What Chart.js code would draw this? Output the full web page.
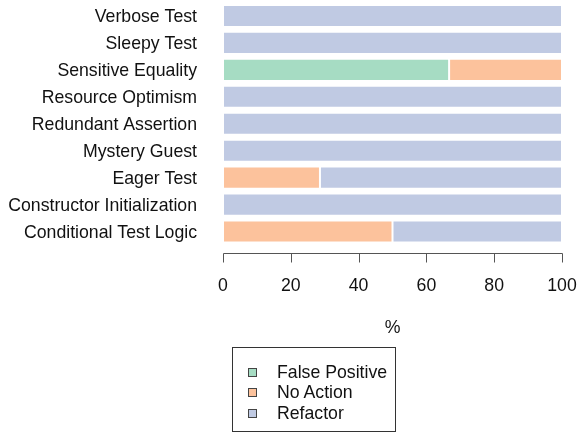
<!DOCTYPE html>
<html>
<head>
<meta charset="utf-8">
<script src="https://cdn.jsdelivr.net/npm/chart.js@4"></script>
<style>
  html, body { margin: 0; padding: 0; background: #fff; }
  #wrap { position: relative; width: 577px; height: 434px; }
  #legend { position: absolute; left: 232px; top: 347px; width: 164px; height: 85px; border: 1px solid #333; box-sizing: border-box;
            font-family: "Liberation Sans", Arial, Helvetica, sans-serif; font-size: 17.7px; color: #111; padding-top: 13.5px; }
  .li { height: 20.5px; line-height: 20.5px; position: relative; padding-left: 44px; white-space: nowrap; }
  .sw { position: absolute; left: 15px; top: 6px; width: 7px; height: 7px; border: 1px solid #444; }
</style>
</head>
<body>
<div id="wrap">
  <canvas id="c" width="577" height="434"></canvas>
  <div id="legend"></div>
</div>
<script>
const categories = ['Verbose Test', 'Sleepy Test', 'Sensitive Equality', 'Resource Optimism', 'Redundant Assertion', 'Mystery Guest', 'Eager Test', 'Constructor Initialization', 'Conditional Test Logic'];
const seriesNames = ['False Positive', 'No Action', 'Refactor'];
const falsePositive = [null, null, 66.7, null, null, null, null, null, null];
const noAction = [null, null, 33.3, null, null, null, 28.6, null, 50];
const refactor = [100, 100, null, 100, 100, 100, 71.4, 100, 50];
const xTicks = [0, 20, 40, 60, 80, 100];
const colors = ['#a6dcc3', '#fcc29c', '#c0cae3'];

const FONT = '"Liberation Sans", Arial, Helvetica, sans-serif';
const FS = 17.7;

const axisPlugin = {
  id: 'rAxis',
  afterDraw(chart) {
    const ctx = chart.ctx, xs = chart.scales.x, ca = chart.chartArea;
    const y = Math.round(ca.bottom + 8) + 0.5;
    ctx.save();
    ctx.strokeStyle = '#555';
    ctx.lineWidth = 1;
    ctx.beginPath();
    ctx.moveTo(Math.round(xs.getPixelForValue(xTicks[0])) + 0.5, y);
    ctx.lineTo(Math.round(xs.getPixelForValue(xTicks[xTicks.length - 1])) + 0.5, y);
    xTicks.forEach(t => {
      const px = Math.round(xs.getPixelForValue(t)) + 0.5;
      ctx.moveTo(px, y);
      ctx.lineTo(px, y + 9);
    });
    ctx.stroke();
    ctx.restore();
  }
};

const data = {
  labels: categories,
  datasets: [falsePositive, noAction, refactor].map((d, i) => ({
    label: seriesNames[i],
    data: d,
    backgroundColor: colors[i],
    borderColor: 'rgba(255,255,255,0.7)',
    borderWidth: 1,
    borderSkipped: false,
    categoryPercentage: 1,
    barPercentage: 0.82
  }))
};

const chart = new Chart(document.getElementById('c'), {
  type: 'bar',
  data,
  options: {
    indexAxis: 'y',
    responsive: false,
    animation: false,
    layout: { padding: { top: 2.5, right: 15, bottom: 95, left: 0 } },
    plugins: { legend: { display: false }, tooltip: { enabled: false } },
    scales: {
      x: {
        stacked: true, min: 0, max: 100,
        afterBuildTicks(s) { s.ticks = xTicks.map(v => ({ value: v })); },
        afterFit(s) { s.height = 94; s.paddingLeft = 0; s.paddingRight = 0; },
        grid: { display: false, drawTicks: false },
        border: { display: false },
        ticks: { color: '#111', font: { family: FONT, size: FS }, padding: 30, maxRotation: 0 },
        title: { display: true, text: '%', color: '#111', font: { family: FONT, size: FS }, padding: { top: 22, bottom: 0 } }
      },
      y: {
        stacked: true,
        afterFit(s) { s.width = 223; s.paddingTop = 0; s.paddingBottom = 0; },
        grid: { display: false, drawTicks: false },
        border: { display: false },
        ticks: { color: '#111', font: { family: FONT, size: FS }, padding: 26, autoSkip: false, labelOffset: 1.5 }
      }
    }
  },
  plugins: [axisPlugin]
});

const lg = document.getElementById('legend');
chart.data.datasets.forEach(ds => {
  const row = document.createElement('div');
  row.className = 'li';
  const sw = document.createElement('span');
  sw.className = 'sw';
  sw.style.background = ds.backgroundColor;
  row.appendChild(sw);
  row.appendChild(document.createTextNode(ds.label));
  lg.appendChild(row);
});
</script>
</body>
</html>
